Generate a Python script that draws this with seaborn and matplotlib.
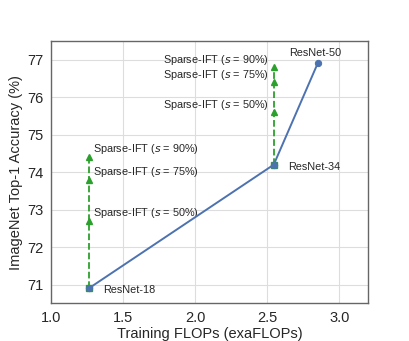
import numpy as np
import pandas as pd
import matplotlib
matplotlib.use("Agg")
import matplotlib.pyplot as plt
import seaborn as sns

# dense baselines
models = ["ResNet-18", "ResNet-34", "ResNet-50"]
flops = [1.26, 2.545, 2.85]
acc = [70.9, 74.2, 76.9]

# Sparse-IFT variants (same FLOPs as the dense baseline)
sparsity = ["50%", "75%", "90%"]
ift_r18 = [72.7, 73.8, 74.4]
ift_r34 = [75.6, 76.4, 76.8]

sns.set_style("whitegrid")
plt.rcParams["font.family"] = ["Liberation Sans", "DejaVu Sans"]

fig, ax = plt.subplots(figsize=(4.09, 3.41), dpi=100)

green = "#2ca02c"
blue = "#4c72b0"

for base_i, ift in [(0, ift_r18), (1, ift_r34)]:
    xs = [flops[base_i]] * (len(ift) + 1)
    ys = [acc[base_i]] + ift
    sns.lineplot(x=xs, y=ys, ax=ax, color=green, linestyle="--", lw=1.3,
                 sort=False, estimator=None)
    ax.plot(xs[1:], ys[1:], "^", color=green, ms=4, zorder=3)
    ax.plot(xs[:1], ys[:1], "s", color=green, ms=4.5, zorder=3)

df = pd.DataFrame({"flops": flops, "acc": acc})
sns.lineplot(data=df, x="flops", y="acc", ax=ax, color=blue, lw=1.4,
             marker="o", ms=4.5, mec=blue, sort=False, zorder=4)

# labels
fs = 7.8
ax.text(flops[0] + 0.1, acc[0] - 0.05, models[0], fontsize=fs, va="center")
ax.text(flops[1] + 0.1, acc[1] - 0.05, models[1], fontsize=fs, va="center")
ax.text(flops[2] - 0.02, acc[2] + 0.27, models[2], fontsize=fs, va="center", ha="center")

for s, y in zip(sparsity, ift_r18):
    ax.text(flops[0] + 0.03, y + 0.21, f"Sparse-IFT ($\\mathit{{s}}$ = {s})",
            fontsize=fs, va="center", ha="left")
for s, y in zip(sparsity, ift_r34):
    ax.text(flops[1] - 0.035, y + 0.18, f"Sparse-IFT ($\\mathit{{s}}$ = {s})",
            fontsize=fs, va="center", ha="right")

ax.set_xlim(1.0, 3.2)
ax.set_ylim(70.5, 77.5)
ax.set_xticks([1.0, 1.5, 2.0, 2.5, 3.0])
ax.set_yticks([71, 72, 73, 74, 75, 76, 77])
ax.tick_params(labelsize=10.5, pad=2)
ax.set_xlabel("Training FLOPs (exaFLOPs)", fontsize=10.5, labelpad=1)
ax.set_ylabel("ImageNet Top-1 Accuracy (%)", fontsize=10.5, labelpad=3)
ax.grid(color="#dddddd", lw=0.8)
for sp in ax.spines.values():
    sp.set_color("#666666")
    sp.set_linewidth(1.0)

fig.subplots_adjust(left=0.125, right=0.9, top=0.88, bottom=0.11)
fig.savefig("out.png", dpi=100)
